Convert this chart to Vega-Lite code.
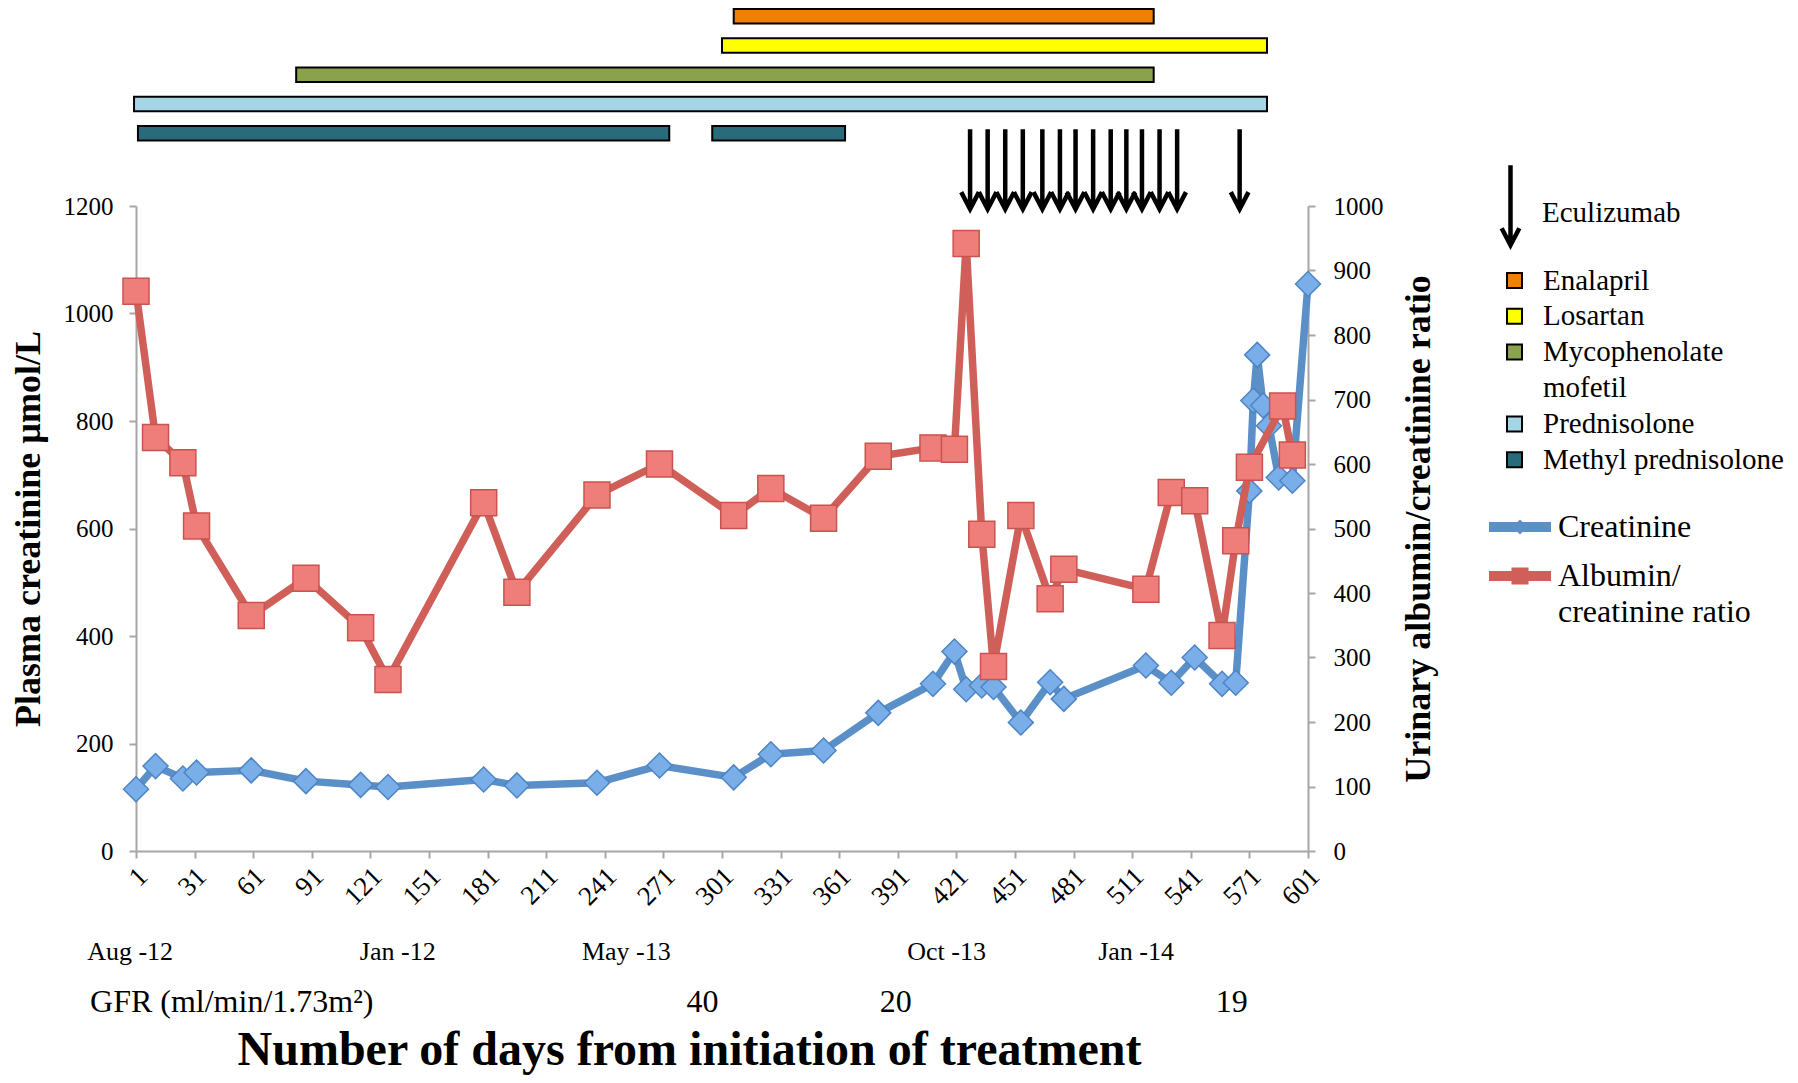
{
  "$schema": "https://vega.github.io/schema/vega-lite/v6.json",
  "background": "white",
  "padding": {"left": 10, "top": 8, "right": 5, "bottom": 2},
  "config": {
    "view": {"stroke": null},
    "font": "Liberation Serif",
    "axis": {"labelFont": "Liberation Serif", "titleFont": "Liberation Serif", "labelColor": "black", "titleColor": "black", "grid": false, "domainColor": "#a6a6a6", "tickColor": "#a6a6a6", "domainWidth": 2, "tickWidth": 2, "tickSize": 7},
    "legend": {"labelFont": "Liberation Serif", "labelColor": "black", "padding": 0, "labelLimit": 500},
    "text": {"font": "Liberation Serif"}
  },
  "datasets": {
    "treatments": [
      {"treatment": "Enalapril", "start": 307, "end": 522},
      {"treatment": "Losartan", "start": 301, "end": 580},
      {"treatment": "Mycophenolate mofetil", "start": 83, "end": 522},
      {"treatment": "Prednisolone", "start": 0, "end": 580},
      {"treatment": "Methyl prednisolone", "start": 2, "end": 274},
      {"treatment": "Methyl prednisolone", "start": 296, "end": 364}
    ],
    "eculizumab": [
      {"treatment": "Eculizumab", "day": 428},
      {"treatment": "Eculizumab", "day": 437},
      {"treatment": "Eculizumab", "day": 446},
      {"treatment": "Eculizumab", "day": 455},
      {"treatment": "Eculizumab", "day": 465},
      {"treatment": "Eculizumab", "day": 474},
      {"treatment": "Eculizumab", "day": 482},
      {"treatment": "Eculizumab", "day": 491},
      {"treatment": "Eculizumab", "day": 500},
      {"treatment": "Eculizumab", "day": 508},
      {"treatment": "Eculizumab", "day": 516},
      {"treatment": "Eculizumab", "day": 525},
      {"treatment": "Eculizumab", "day": 534},
      {"treatment": "Eculizumab", "day": 566}
    ],
    "creatinine": [
      {"day": 1, "value": 115}, {"day": 11, "value": 158}, {"day": 25, "value": 135}, {"day": 32, "value": 146},
      {"day": 60, "value": 150}, {"day": 88, "value": 130}, {"day": 116, "value": 123}, {"day": 130, "value": 119},
      {"day": 179, "value": 133}, {"day": 196, "value": 122}, {"day": 237, "value": 127}, {"day": 269, "value": 159},
      {"day": 307, "value": 137}, {"day": 326, "value": 180}, {"day": 353, "value": 187}, {"day": 381, "value": 257},
      {"day": 409, "value": 311}, {"day": 420, "value": 371}, {"day": 426, "value": 301}, {"day": 434, "value": 308},
      {"day": 440, "value": 305}, {"day": 454, "value": 239}, {"day": 469, "value": 314}, {"day": 476, "value": 283},
      {"day": 518, "value": 345}, {"day": 531, "value": 313}, {"day": 543, "value": 360}, {"day": 557, "value": 311},
      {"day": 564, "value": 313}, {"day": 571, "value": 670}, {"day": 573, "value": 838}, {"day": 575, "value": 923},
      {"day": 578, "value": 829}, {"day": 581, "value": 791}, {"day": 586, "value": 695}, {"day": 593, "value": 689},
      {"day": 601, "value": 1055}
    ],
    "acr": [
      {"day": 1, "value": 868}, {"day": 11, "value": 641}, {"day": 25, "value": 602}, {"day": 32, "value": 504},
      {"day": 60, "value": 365}, {"day": 88, "value": 423}, {"day": 116, "value": 346}, {"day": 130, "value": 266},
      {"day": 179, "value": 540}, {"day": 196, "value": 401}, {"day": 237, "value": 552}, {"day": 269, "value": 600},
      {"day": 307, "value": 520}, {"day": 326, "value": 562}, {"day": 353, "value": 516}, {"day": 381, "value": 612},
      {"day": 409, "value": 625}, {"day": 420, "value": 623}, {"day": 426, "value": 942}, {"day": 434, "value": 491},
      {"day": 440, "value": 286}, {"day": 454, "value": 520}, {"day": 469, "value": 391}, {"day": 476, "value": 437},
      {"day": 518, "value": 406}, {"day": 531, "value": 556}, {"day": 543, "value": 543}, {"day": 557, "value": 334},
      {"day": 564, "value": 481}, {"day": 571, "value": 595}, {"day": 588, "value": 690}, {"day": 593, "value": 614}
    ],
    "timeline": [
      {"kind": "date", "label": "Aug -12", "day": -2},
      {"kind": "date", "label": "Jan -12", "day": 135},
      {"kind": "date", "label": "May -13", "day": 252},
      {"kind": "date", "label": "Oct -13", "day": 416},
      {"kind": "date", "label": "Jan -14", "day": 513},
      {"kind": "GFR", "label": "GFR (ml/min/1.73m²)", "day": 50},
      {"kind": "GFR", "label": "40", "day": 291},
      {"kind": "GFR", "label": "20", "day": 390},
      {"kind": "GFR", "label": "19", "day": 562}
    ]
  },
  "vconcat": [
    {
      "width": 1172,
      "height": 197,
      "layer": [
        {
          "data": {"name": "treatments"},
          "mark": {"type": "bar", "stroke": "black", "strokeWidth": 2},
          "encoding": {
            "x": {"field": "start", "type": "quantitative", "scale": {"domain": [1, 601], "nice": false, "zero": false}, "axis": null},
            "x2": {"field": "end"},
            "y": {"field": "treatment", "type": "nominal", "scale": {"domain": ["Enalapril", "Losartan", "Mycophenolate mofetil", "Prednisolone", "Methyl prednisolone", "Eculizumab"], "paddingInner": 0.5, "paddingOuter": 0.62, "align": 0}, "axis": null},
            "fill": {
              "field": "treatment", "type": "nominal",
              "scale": {"domain": ["Enalapril", "Losartan", "Mycophenolate mofetil", "Prednisolone", "Methyl prednisolone"], "range": ["#ee8100", "#ffff00", "#8aa24b", "#a4d6e5", "#2a6b7b"]},
              "legend": {
                "title": null, "orient": "none", "direction": "vertical", "legendX": 1364, "legendY": 257,
                "labelFont": "Liberation Serif", "labelFontSize": 29, "labelOffset": 14, "symbolType": "square", "symbolSize": 225,
                "symbolStrokeColor": "black", "symbolStrokeWidth": 2, "rowPadding": 5.8,
                "labelExpr": "datum.label == 'Mycophenolate mofetil' ? ['Mycophenolate', 'mofetil'] : datum.label",
                "encode": {"labels": {"update": {"lineHeight": {"value": 36}, "font": {"value": "Liberation Serif"}}}}
              }
            }
          }
        },
        {
          "data": {"name": "eculizumab"},
          "mark": {"type": "point", "filled": false, "stroke": "black", "strokeWidth": 4.5, "size": 900, "opacity": 1},
          "encoding": {
            "x": {"field": "day", "type": "quantitative"},
            "y": {"field": "treatment", "type": "nominal"},
            "shape": {
              "field": "treatment", "type": "nominal",
              "scale": {"domain": ["Eculizumab"], "range": ["M0,-2.22L0,2.9M-0.59,1.98L0,3.11L0.59,1.98"]},
              "legend": {
                "title": null, "orient": "none", "legendX": 1357, "legendY": 172,
                "labelFont": "Liberation Serif", "labelFontSize": 29, "labelOffset": 14, "symbolSize": 900,
                "symbolStrokeColor": "black", "symbolStrokeWidth": 4.5, "labelBaseline": "top",
                "encode": {"labels": {"update": {"font": {"value": "Liberation Serif"}}}}
              }
            }
          }
        }
      ]
    },
    {
      "width": 1172,
      "height": 645,
      "layer": [
        {
          "data": {"name": "creatinine"},
          "encoding": {
            "x": {"field": "day", "type": "quantitative", "scale": {"domain": [1, 601], "nice": false, "zero": false},
              "axis": {"title": null, "values": [1, 31, 61, 91, 121, 151, 181, 211, 241, 271, 301, 331, 361, 391, 421, 451, 481, 511, 541, 571, 601], "labelAngle": -45, "labelAlign": "right", "labelBaseline": "middle", "labelFont": "Liberation Serif", "labelFontSize": 27, "labelPadding": 14, "labelOffset": 7, "format": "d", "labelOverlap": false}},
            "y": {"field": "value", "type": "quantitative", "scale": {"domain": [0, 1200], "nice": false},
              "axis": {"orient": "left", "values": [0, 200, 400, 600, 800, 1000, 1200], "format": "d", "title": "Plasma creatinine µmol/L", "titleFont": "Liberation Serif", "titleFontSize": 36, "titleFontWeight": "bold", "titlePadding": 16, "labelFont": "Liberation Serif", "labelFontSize": 25, "labelPadding": 16}}
          },
          "layer": [
            {
              "mark": {"type": "line", "strokeWidth": 7.5, "strokeJoin": "round"},
              "encoding": {
                "stroke": {
                  "datum": "Creatinine", "type": "nominal",
                  "scale": {"domain": ["Creatinine", "Albumin/creatinine ratio"], "range": ["#5b8fc8", "#cf5f58"]},
                  "legend": {
                    "title": null, "orient": "none", "direction": "vertical", "legendX": 1368, "legendY": 305,
                    "labelFont": "Liberation Serif", "labelFontSize": 32, "labelOffset": 22, "symbolSize": 400, "rowPadding": 17,
                    "labelExpr": "datum.label == 'Albumin/creatinine ratio' ? ['Albumin/', 'creatinine ratio'] : datum.label",
                    "encode": {
                      "symbols": {"update": {
                        "shape": {"signal": "datum.value == 'Creatinine' ? 'M-3.1,-0.5L3.1,-0.5L3.1,0.5L-3.1,0.5Z M0,-0.75L0.75,0L0,0.75L-0.75,0Z' : 'M-3.1,-0.5L3.1,-0.5L3.1,0.5L-3.1,0.5Z M-0.85,-0.85L0.85,-0.85L0.85,0.85L-0.85,0.85Z'"},
                        "fill": {"signal": "datum.value == 'Creatinine' ? '#5b8fc8' : '#cf5f58'"},
                        "strokeWidth": {"value": 0}
                      }},
                      "labels": {"update": {"lineHeight": {"value": 36}, "font": {"value": "Liberation Serif"}}}
                    }
                  }
                }
              }
            },
            {
              "mark": {"type": "point", "shape": "diamond", "filled": true, "size": 625, "fill": "#79aee8", "stroke": "#4d85c4", "strokeWidth": 1.5, "opacity": 1},
              "encoding": {}
            }
          ]
        },
        {
          "data": {"name": "acr"},
          "encoding": {
            "x": {"field": "day", "type": "quantitative", "scale": {"domain": [1, 601], "nice": false, "zero": false}},
            "y": {"field": "value", "type": "quantitative", "scale": {"domain": [0, 1000], "nice": false},
              "axis": {"orient": "right", "values": [0, 100, 200, 300, 400, 500, 600, 700, 800, 900, 1000], "format": "d", "title": "Urinary albumin/creatinine ratio", "titleFont": "Liberation Serif", "titleFontSize": 36, "titleFontWeight": "bold", "titleAngle": -90, "titleBaseline": "top", "titlePadding": 18, "labelFont": "Liberation Serif", "labelFontSize": 25, "labelPadding": 18}}
          },
          "layer": [
            {
              "mark": {"type": "line", "strokeWidth": 7.5, "strokeJoin": "round"},
              "encoding": {"stroke": {"datum": "Albumin/creatinine ratio", "type": "nominal"}}
            },
            {
              "mark": {"type": "point", "shape": "square", "filled": true, "size": 676, "fill": "#ef7e7a", "stroke": "#c9534f", "strokeWidth": 1.5, "opacity": 1},
              "encoding": {}
            }
          ]
        }
      ],
      "resolve": {"scale": {"y": "independent"}}
    },
    {
      "width": 1172,
      "height": 151,
      "data": {"name": "timeline"},
      "encoding": {
        "x": {"field": "day", "type": "quantitative", "scale": {"domain": [1, 601], "nice": false, "zero": false},
          "axis": {"title": "Number of days from initiation of treatment", "labels": false, "ticks": false, "domain": false, "titleFont": "Liberation Serif", "titleFontSize": 48, "titleFontWeight": "bold", "titlePadding": 24, "titleX": 553}},
        "y": {"field": "kind", "type": "nominal", "scale": {"type": "point", "domain": ["date", "GFR"], "padding": 1.07, "align": 1}, "axis": null},
        "text": {"field": "label"}
      },
      "layer": [
        {"transform": [{"filter": "datum.kind == 'date'"}], "mark": {"type": "text", "font": "Liberation Serif", "fontSize": 26, "color": "black"}},
        {"transform": [{"filter": "datum.kind == 'GFR'"}], "mark": {"type": "text", "font": "Liberation Serif", "fontSize": 32, "color": "black"}}
      ]
    }
  ],
  "spacing": 0,
  "bounds": "flush",
  "resolve": {
    "scale": {"fill": "independent", "stroke": "independent", "shape": "independent"},
    "legend": {"fill": "independent", "stroke": "independent", "shape": "independent"}
  }
}
